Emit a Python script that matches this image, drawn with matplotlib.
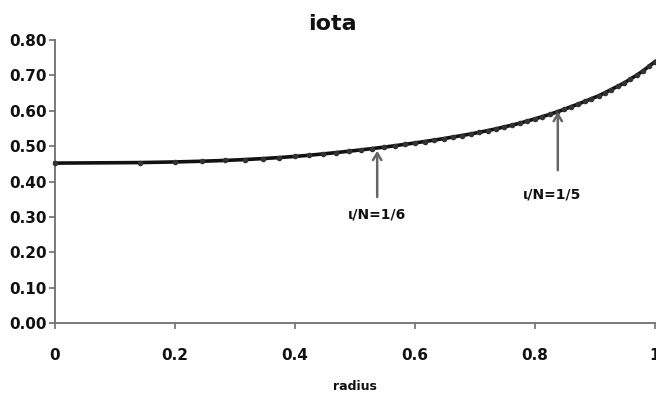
import matplotlib
matplotlib.use("Agg")
import matplotlib.pyplot as plt

# ---- data ----
radius = [0.0, 0.141, 0.2, 0.245, 0.283, 0.316, 0.346, 0.374, 0.4, 0.424,
          0.447, 0.469, 0.490, 0.510, 0.529, 0.548, 0.566, 0.583, 0.6, 0.616,
          0.632, 0.648, 0.663, 0.678, 0.693, 0.707, 0.721, 0.735, 0.748, 0.762,
          0.775, 0.787, 0.8, 0.812, 0.825, 0.837, 0.849, 0.860, 0.872, 0.883,
          0.894, 0.906, 0.917, 0.927, 0.938, 0.949, 0.959, 0.970, 0.980, 0.990,
          1.0]
iota = [0.452, 0.4535, 0.4553, 0.4573, 0.4595, 0.462, 0.4647, 0.4677, 0.4709, 0.4743,
        0.478, 0.4818, 0.4856, 0.4894, 0.4932, 0.497, 0.501, 0.505, 0.509, 0.513,
        0.517, 0.5213, 0.5256, 0.530, 0.5344, 0.539, 0.5438, 0.5488, 0.554, 0.5594,
        0.565, 0.5709, 0.577, 0.5833, 0.590, 0.597, 0.6041, 0.6115, 0.6189, 0.6264,
        0.634, 0.6422, 0.6511, 0.660, 0.6693, 0.679, 0.6897, 0.701, 0.7129, 0.7254,
        0.739]

x_ticks = [0, 0.2, 0.4, 0.6, 0.8, 1.0]
x_tick_labels = ["0", "0.2", "0.4", "0.6", "0.8", "1"]
y_ticks = [0.0, 0.1, 0.2, 0.3, 0.4, 0.5, 0.6, 0.7, 0.8]
y_tick_labels = ["0.00", "0.10", "0.20", "0.30", "0.40", "0.50", "0.60", "0.70", "0.80"]

annot_labels = ["\u03b9/N=1/6", "\u03b9/N=1/5"]
annot_x = [0.537, 0.838]
annot_tip = [0.487, 0.597]
annot_tail = [0.356, 0.432]
annot_text_xy = [(0.537, 0.308), (0.828, 0.364)]

title = "iota"
xlabel = "radius"

# ---- figure ----
fig = plt.figure(figsize=(6.56, 3.97), dpi=100)
ax = fig.add_axes([55 / 656, 1 - 323 / 397, 600 / 656, 283 / 397])

ax.plot(radius, iota, color="#111111", linewidth=2.6, marker="o",
        markersize=3.0, markerfacecolor="#333333", markeredgecolor="#333333",
        zorder=3, clip_on=False)

ax.set_xlim(0, 1.0)
ax.set_ylim(0, 0.8)

ax.set_xticks(x_ticks)
ax.set_xticklabels(x_tick_labels, fontsize=11, fontweight="bold", color="#111111")
ax.set_yticks(y_ticks)
ax.set_yticklabels(y_tick_labels, fontsize=11, fontweight="bold", color="#111111")

for side in ["top", "right"]:
    ax.spines[side].set_visible(False)
for side in ["left", "bottom"]:
    ax.spines[side].set_color("#6e6e6e")
    ax.spines[side].set_linewidth(1.3)

ax.tick_params(axis="y", direction="out", length=4, width=1.2, color="#6e6e6e", pad=2)
ax.tick_params(axis="x", direction="out", length=4, width=1.2, color="#6e6e6e", pad=14)

ax.set_xlabel(xlabel, fontsize=9, fontweight="bold", labelpad=12, color="#111111")

fig.text(332 / 656, 1 - 30 / 397, title, fontsize=16, fontweight="bold",
         ha="center", va="baseline", color="#111111")

for lab, xa, tip, tail, txy in zip(annot_labels, annot_x, annot_tip, annot_tail, annot_text_xy):
    ax.annotate("", xy=(xa, tip), xytext=(xa, tail),
                arrowprops=dict(arrowstyle="->,head_length=0.5,head_width=0.3",
                                color="#666666", lw=1.8, shrinkA=0, shrinkB=0))
    ax.text(txy[0], txy[1], lab, fontsize=10, fontweight="bold",
            ha="center", va="center", color="#111111")

fig.savefig("out.png", dpi=100)
